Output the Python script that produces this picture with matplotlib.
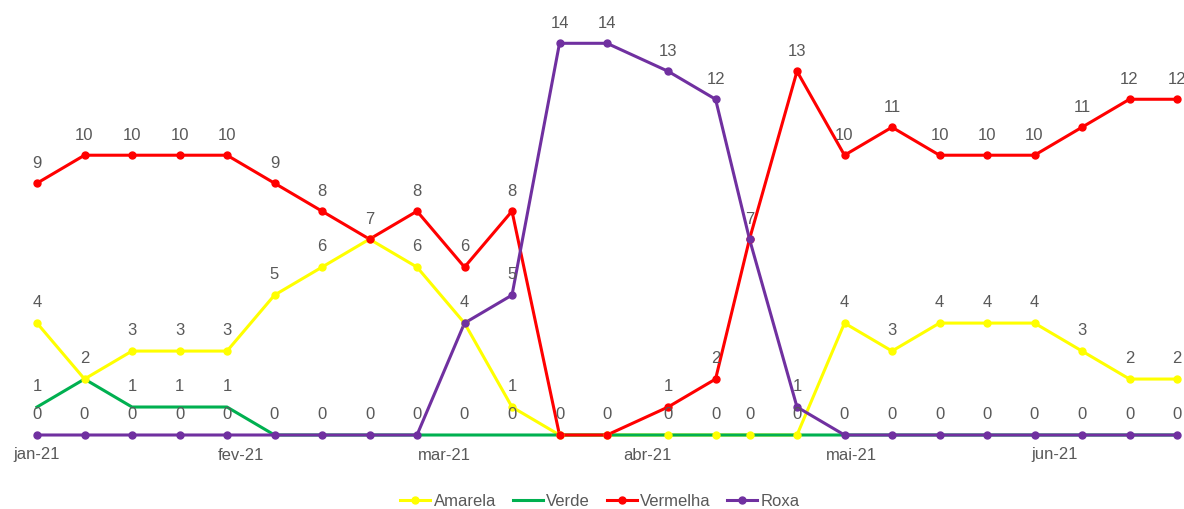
import matplotlib
matplotlib.use("Agg")
import matplotlib.pyplot as plt
import matplotlib.dates as mdates
from matplotlib.lines import Line2D
import pandas as pd

plt.rcParams['font.family'] = ['Liberation Sans', 'DejaVu Sans']

dates = ['2021-01-04', '2021-01-11', '2021-01-18', '2021-01-25', '2021-02-01',
         '2021-02-08', '2021-02-15', '2021-02-22', '2021-03-01', '2021-03-08',
         '2021-03-15', '2021-03-22', '2021-03-29', '2021-04-07', '2021-04-14',
         '2021-04-19', '2021-04-26', '2021-05-03', '2021-05-10', '2021-05-17',
         '2021-05-24', '2021-05-31', '2021-06-07', '2021-06-14', '2021-06-21']
amarela = [4, 2, 3, 3, 3, 5, 6, 7, 6, 4, 1, 0, 0, 0, 0, 0, 0, 4, 3, 4, 4, 4, 3, 2, 2]
verde = [1, 2, 1, 1, 1, 0, 0, 0, 0, 0, 0, 0, 0, 0, 0, 0, 0, 0, 0, 0, 0, 0, 0, 0, 0]
vermelha = [9, 10, 10, 10, 10, 9, 8, 7, 8, 6, 8, 0, 0, 1, 2, 7, 13, 10, 11, 10, 10, 10, 11, 12, 12]
roxa = [0, 0, 0, 0, 0, 0, 0, 0, 0, 4, 5, 14, 14, 13, 12, 7, 1, 0, 0, 0, 0, 0, 0, 0, 0]
tick_labels = ['jan-21', 'fev-21', 'mar-21', 'abr-21', 'mai-21', 'jun-21']
series_names = ['Amarela', 'Verde', 'Vermelha', 'Roxa']

colors = ['#FFFF00', '#00B050', '#FF0000', '#7030A0']
has_marker = [True, False, True, True]
label_color = '#595959'

x = pd.to_datetime(dates)
xs = mdates.date2num(x)

fig = plt.figure(figsize=(11.84, 5.09), dpi=100)
ax = fig.add_axes([37 / 1184, 74 / 509, (1177 - 37) / 1184, (435 - 43.3) / 509])

all_series = [amarela, verde, vermelha, roxa]
for i, (vals, c, mk) in enumerate(zip(all_series, colors, has_marker)):
    ax.plot(xs, vals, color=c, lw=2.2, zorder=2 + i * 0.1, clip_on=False,
            solid_joinstyle='round')
for i, (vals, c, mk) in enumerate(zip(all_series, colors, has_marker)):
    if mk:
        ax.plot(xs, vals, ls='none', marker='o', ms=5, color=c,
                zorder=3 + i * 0.1, clip_on=False)

# data labels (identical labels at the same spot are drawn once)
seen = set()
for vals in all_series:
    for xv, yv in zip(xs, vals):
        if (xv, yv) in seen:
            continue
        seen.add((xv, yv))
        ax.annotate(str(yv), (xv, yv), xytext=(0, 14.5), textcoords='offset points',
                    ha='center', va='center', fontsize=12, color=label_color,
                    zorder=5, annotation_clip=False)

ax.set_xlim(xs[0], xs[-1])
ax.set_ylim(0, 14)
ticks = [xs[0] + 30 * k for k in range(len(tick_labels))]
ax.set_xticks(ticks)
ax.set_xticklabels(tick_labels, fontsize=12, color=label_color)
ax.tick_params(axis='x', length=0, pad=9)
ax.set_yticks([])
for s in ax.spines.values():
    s.set_visible(False)

handles = [Line2D([0], [0], color=c, lw=2.2, marker='o' if mk else None, ms=5)
           for c, mk in zip(colors, has_marker)]
leg = fig.legend(handles, series_names, loc='center', bbox_to_anchor=(600 / 1184, 1 - 501 / 509),
                 ncol=4, frameon=False, fontsize=12, handlelength=1.8, handletextpad=0.2,
                 columnspacing=1.0)
for t in leg.get_texts():
    t.set_color(label_color)

fig.savefig('out.png', dpi=100)
